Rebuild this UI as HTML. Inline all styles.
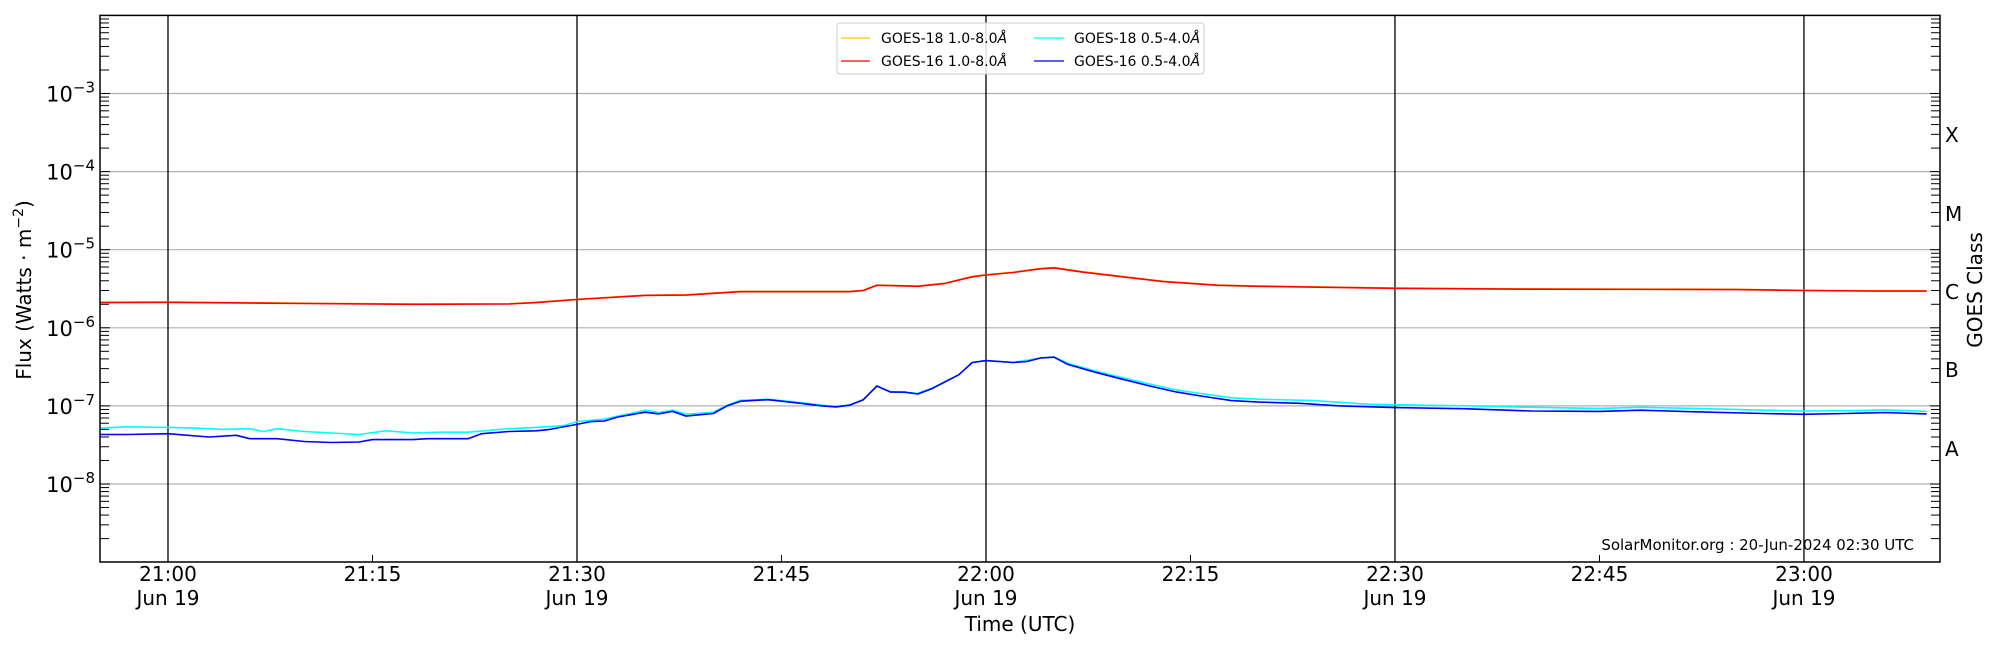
<!DOCTYPE html>
<html><head><meta charset="utf-8"><style>
html,body{margin:0;padding:0;background:#fff;width:2000px;height:650px;overflow:hidden}
svg text{font-family:"DejaVu Sans","Liberation Sans",sans-serif;fill:#000}
</style></head><body>
<svg id="s" width="2000" height="650" xmlns="http://www.w3.org/2000/svg">
<rect width="2000" height="650" fill="#fff"/>
<g id="grid"></g>
<g id="series"></g>
<rect x="100" y="15.4" width="1840" height="546.6" fill="none" stroke="#000" stroke-width="1.5"/>
<g id="ticks"></g>
<g font-size="20" text-anchor="middle">
<text x="168" y="581">21:00</text><text x="168" y="605">Jun 19</text>
<text x="372.5" y="581">21:15</text>
<text x="577" y="581">21:30</text><text x="577" y="605">Jun 19</text>
<text x="781.5" y="581">21:45</text>
<text x="986" y="581">22:00</text><text x="986" y="605">Jun 19</text>
<text x="1190.5" y="581">22:15</text>
<text x="1395" y="581">22:30</text><text x="1395" y="605">Jun 19</text>
<text x="1599.5" y="581">22:45</text>
<text x="1804" y="581">23:00</text><text x="1804" y="605">Jun 19</text>
<text x="1020" y="631">Time (UTC)</text>
</g>
<g id="ylab" font-size="21" text-anchor="end"></g>
<text transform="translate(31,290) rotate(-90)" font-size="20" text-anchor="middle">Flux (Watts · m<tspan dy="-8" font-size="14">−2</tspan><tspan dy="8">)</tspan></text>
<g font-size="20">
<text x="1945" y="142">X</text><text x="1945" y="221">M</text><text x="1945" y="299">C</text><text x="1945" y="377">B</text><text x="1945" y="456">A</text>
</g>
<text transform="translate(1982,290) rotate(-90)" font-size="20" text-anchor="middle">GOES Class</text>
<text x="1914" y="550" font-size="15" text-anchor="end">SolarMonitor.org : 20-Jun-2024 02:30 UTC</text>
<g>
<rect x="837" y="23" width="367" height="51" rx="3" fill="#fff" fill-opacity="0.85" stroke="#ccc"/>
<line x1="841" y1="38" x2="870" y2="38" stroke="#ffc000" stroke-width="1.3"/>
<line x1="841" y1="61" x2="870" y2="61" stroke="#ff0000" stroke-width="1.3"/>
<line x1="1034" y1="38" x2="1064" y2="38" stroke="#00ffff" stroke-width="1.3"/>
<line x1="1034" y1="61" x2="1064" y2="61" stroke="#0000ff" stroke-width="1.3"/>
<g font-size="14">
<text x="881" y="43">GOES-18 1.0-8.0<tspan font-style="italic">Å</tspan></text>
<text x="881" y="66">GOES-16 1.0-8.0<tspan font-style="italic">Å</tspan></text>
<text x="1074" y="43">GOES-18 0.5-4.0<tspan font-style="italic">Å</tspan></text>
<text x="1074" y="66">GOES-16 0.5-4.0<tspan font-style="italic">Å</tspan></text>
</g></g>
</svg>
<script>
var NS="http://www.w3.org/2000/svg";
function X(m){return 168+m*13.633;}
function Y(f){return 15.4+(-2-Math.log10(f))*78.1;}
function el(p,t,a){var e=document.createElementNS(NS,t);for(var k in a)e.setAttribute(k,a[k]);p.appendChild(e);return e;}
var g=document.getElementById('grid'),tk=document.getElementById('ticks'),yl=document.getElementById('ylab');
for(var d=-3;d>=-8;d--){var y=Y(Math.pow(10,d));el(g,'line',{x1:100,x2:1940,y1:y,y2:y,stroke:'#b0b0b0','stroke-width':1.2});
 var t=el(yl,'text',{x:95,y:y+8});t.textContent='10';var s=el(t,'tspan',{dy:-9,'font-size':15});s.textContent='−'+(-d);}
[0,30,60,90,120].forEach(function(m){el(g,'line',{x1:X(m),x2:X(m),y1:15.4,y2:562,stroke:'#000','stroke-width':1.3});});
[15,45,75,105].forEach(function(m){el(tk,'line',{x1:X(m),x2:X(m),y1:562,y2:555,stroke:'#000','stroke-width':1});});
for(var d=-9;d<-2;d++)for(var k=1;k<10;k++){var f=k*Math.pow(10,d),y=Y(f);if(y<15.5||y>561.9)continue;
 var L=k==1?10:9;el(tk,'line',{x1:100,x2:100+L,y1:y,y2:y,stroke:'#000','stroke-width':1});el(tk,'line',{x1:1940-L,x2:1940,y1:y,y2:y,stroke:'#000','stroke-width':1});}
var red=[[-5,2.1e-6],[0,2.12e-6],[10,2.05e-6],[18,2.0e-6],[25,2.02e-6],[27,2.1e-6],[30,2.3e-6],[35,2.6e-6],[38,2.62e-6],[42,2.9e-6],[50,2.9e-6],[51,3.0e-6],[52,3.5e-6],[55,3.4e-6],[57,3.7e-6],[59,4.5e-6],[60,4.75e-6],[62,5.1e-6],[64,5.7e-6],[65,5.85e-6],[67,5.2e-6],[70,4.5e-6],[73,3.9e-6],[77,3.5e-6],[80,3.4e-6],[85,3.3e-6],[90,3.2e-6],[100,3.12e-6],[110,3.1e-6],[115,3.08e-6],[120,3.0e-6],[125,2.95e-6],[129,2.95e-6]];
var blue=[[-5,4.3e-8],[-3,4.3e-8],[0,4.4e-8],[3,4.0e-8],[5,4.2e-8],[6,3.8e-8],[8,3.8e-8],[10,3.5e-8],[12,3.4e-8],[14,3.45e-8],[15,3.7e-8],[18,3.7e-8],[19,3.8e-8],[22,3.8e-8],[23,4.4e-8],[25,4.7e-8],[27,4.8e-8],[28,5.0e-8],[30,5.8e-8],[31,6.3e-8],[32,6.4e-8],[33,7.2e-8],[35,8.3e-8],[36,7.9e-8],[37,8.5e-8],[38,7.4e-8],[40,8.0e-8],[41,1.0e-7],[42,1.15e-7],[44,1.2e-7],[46,1.1e-7],[48,1.0e-7],[49,9.7e-8],[50,1.02e-7],[51,1.2e-7],[52,1.8e-7],[53,1.5e-7],[54,1.5e-7],[55,1.42e-7],[56,1.65e-7],[58,2.5e-7],[59,3.6e-7],[60,3.8e-7],[62,3.6e-7],[63,3.7e-7],[64,4.1e-7],[65,4.2e-7],[66,3.4e-7],[68,2.7e-7],[70,2.2e-7],[72,1.8e-7],[74,1.5e-7],[76,1.32e-7],[78,1.17e-7],[80,1.12e-7],[83,1.08e-7],[86,1.0e-7],[90,9.5e-8],[95,9.2e-8],[100,8.6e-8],[105,8.5e-8],[108,8.8e-8],[112,8.4e-8],[117,8.0e-8],[120,7.8e-8],[123,8.0e-8],[126,8.2e-8],[129,7.9e-8]];
var cyan=[[-5,5.2e-8],[-3,5.4e-8],[0,5.3e-8],[2,5.2e-8],[4,5.0e-8],[6,5.1e-8],[7,4.7e-8],[8,5.1e-8],[10,4.7e-8],[12,4.5e-8],[14,4.3e-8],[16,4.8e-8],[18,4.5e-8],[20,4.6e-8],[22,4.6e-8],[25,5.1e-8],[27,5.3e-8],[29,5.6e-8],[30,6.3e-8],[32,6.8e-8],[35,8.8e-8],[36,8.2e-8],[37,8.8e-8],[38,7.8e-8],[40,8.3e-8],[41,1.02e-7],[42,1.18e-7],[44,1.22e-7],[46,1.12e-7],[48,1.02e-7],[49,9.8e-8],[50,1.03e-7],[51,1.2e-7],[52,1.8e-7],[53,1.52e-7],[55,1.45e-7],[56,1.67e-7],[58,2.5e-7],[59,3.6e-7],[60,3.8e-7],[62,3.6e-7],[64,4.1e-7],[65,4.25e-7],[66,3.5e-7],[68,2.8e-7],[70,2.3e-7],[72,1.9e-7],[74,1.6e-7],[76,1.42e-7],[78,1.27e-7],[80,1.22e-7],[84,1.17e-7],[88,1.05e-7],[92,1.02e-7],[96,1.0e-7],[100,9.6e-8],[105,9.3e-8],[108,9.6e-8],[112,9.3e-8],[117,8.8e-8],[120,8.6e-8],[124,8.7e-8],[126,8.9e-8],[129,8.5e-8]];
var sg=document.getElementById('series');
function line(d,c,w){el(sg,'polyline',{points:d.map(function(p){return X(p[0]).toFixed(1)+','+Y(p[1]).toFixed(1);}).join(' '),fill:'none',stroke:c,'stroke-width':w,'stroke-linejoin':'round'});}
line(red.map(function(p){return [p[0],p[1]*1.01];}),'#ffc000',1.5);
line(red,'#ff0000',1.6);
line(cyan,'#00ffff',1.6);
line(blue,'#0000ff',1.6);
</script>
</body></html>
